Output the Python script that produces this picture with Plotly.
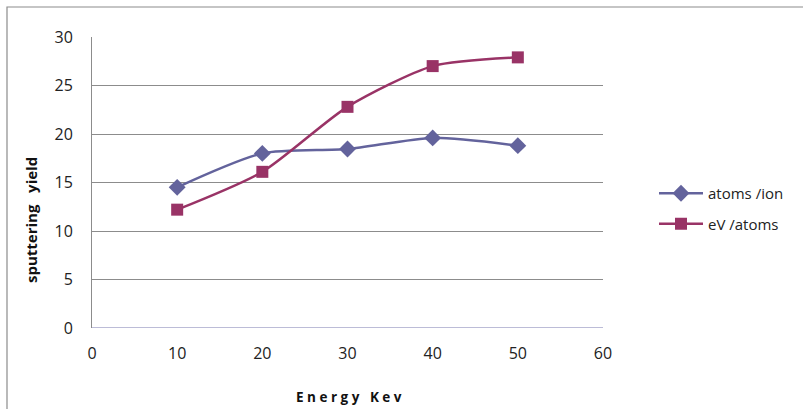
import plotly.graph_objects as go

energy = [10, 20, 30, 40, 50]
atoms_per_ion = [14.5, 18.0, 18.45, 19.6, 18.8]
ev_per_atom = [12.2, 16.1, 22.8, 27.0, 27.9]

x_ticks = [0, 10, 20, 30, 40, 50, 60]
y_ticks = [0, 5, 10, 15, 20, 25, 30]

blue = "#63639C"
plum = "#993366"
font_family = "Open Sans, Liberation Sans, sans-serif"
tick_font = dict(family=font_family, size=16, color="#222")

W, H = 803, 409
L, R, T, B = 92, 200, 37, 81
plot_w, plot_h = W - L - R, H - T - B

fig = go.Figure()
fig.add_trace(go.Scatter(
    x=energy, y=atoms_per_ion, name="atoms /ion", mode="lines+markers",
    line=dict(color=blue, width=2.5, shape="spline", smoothing=0.7),
    marker=dict(symbol="diamond", size=13, color=blue),
    legendgroup="a",
))
fig.add_trace(go.Scatter(
    x=energy, y=ev_per_atom, name="eV /atoms", mode="lines+markers",
    line=dict(color=plum, width=2.5, shape="spline", smoothing=0.7),
    marker=dict(symbol="square", size=12, color=plum),
    legendgroup="b",
))

fig.update_layout(
    width=W, height=H,
    margin=dict(l=L, r=R, t=T, b=B),
    paper_bgcolor="white", plot_bgcolor="white",
    showlegend=True,
    legend=dict(xref="container", yref="container",
                x=654 / W, y=1 - 177 / H, xanchor="left", yanchor="top",
                itemwidth=44,
                font=dict(family=font_family, size=15, color="#222"),
                tracegroupgap=8, bgcolor="rgba(0,0,0,0)"),
    xaxis=dict(range=[0, 60], tickvals=x_ticks, showgrid=False, zeroline=False,
               showline=False, tickfont=tick_font, ticks="", ticklabelstandoff=14),
    yaxis=dict(range=[0, 30], tickvals=y_ticks, showgrid=True, gridcolor="#8c8c8c",
               gridwidth=1, zeroline=False, showline=True, linecolor="#8c8c8c",
               linewidth=1, tickfont=tick_font, ticks="", ticklabelstandoff=15),
    annotations=[
        dict(text="<b>E n e r g y   K e v</b>", xref="paper", yref="paper",
             x=(349 - L) / plot_w, y=(H - B - 397) / plot_h,
             xanchor="center", yanchor="middle", showarrow=False,
             font=dict(family=font_family, size=13.5, color="#111")),
        dict(text="<b>sputtering   yield</b>", xref="paper", yref="paper",
             x=(31 - L) / plot_w, y=(H - B - 220) / plot_h, textangle=-90,
             xanchor="center", yanchor="middle", showarrow=False,
             font=dict(family=font_family, size=15, color="#111")),
    ],
    shapes=[
        # x axis baseline
        dict(type="line", xref="x", yref="y", x0=0, x1=60, y0=0, y1=0,
             line=dict(color="#7a7ab0", width=1.2)),
        # chart area frame
        dict(type="rect", xref="paper", yref="paper",
             x0=(7 - L) / plot_w, x1=(815 - L) / plot_w,
             y0=(H - B - 430) / plot_h, y1=(H - B - 7) / plot_h,
             line=dict(color="#8c8c8c", width=1.2), layer="below"),
    ],
)

fig.write_html("out.html")
